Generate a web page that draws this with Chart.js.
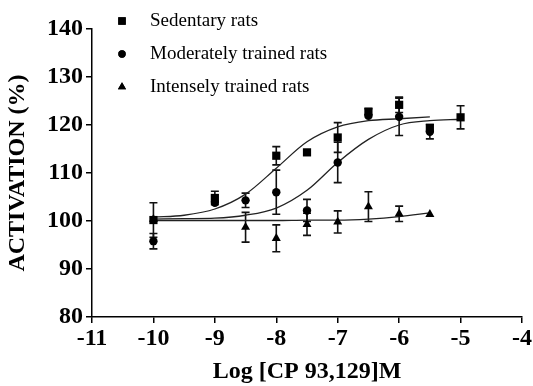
<!DOCTYPE html>
<html>
<head>
<meta charset="utf-8">
<script src="https://cdn.jsdelivr.net/npm/chart.js@4"></script>
<style>
  html, body { margin: 0; padding: 0; background: #fff; }
  #wrap { width: 533px; height: 386px; }
</style>
</head>
<body>
<div id="wrap"><canvas id="c"></canvas></div>
<script>
/* courbes dose-réponse CP 93,129 — trois groupes de rats */

const seriesNames = ["Sedentary rats", "Moderately trained rats", "Intensely trained rats"];

// points mesurés (log dose, moyenne, erreur)
const sedDose = [-10, -9, -8, -7.5, -7, -6.5, -6, -5.5, -5];
const sedMean = [100.2, 104.8, 113.6, 114.3, 117.4, 122.8, 124.2, 119.4, 121.6];
const sedErr  = [3.6, 1.4, 1.9, 0, 3.1, 0.6, 1.6, 0, 2.4];

const modDose = [-10, -9, -8.5, -8, -7.5, -7, -6.5, -6, -5.5];
const modMean = [95.8, 103.8, 104.3, 106.0, 102.2, 112.2, 121.9, 121.7, 118.6];
const modErr  = [1.6, 0, 1.5, 4.6, 2.3, 4.2, 0, 3.9, 1.5];

const intDose = [-10, -8.5, -8, -7.5, -7, -6.5, -6, -5.5];
const intMean = [100.4, 98.7, 96.4, 99.3, 99.8, 103.0, 101.5, 101.4];
const intErr  = [0, 3.1, 2.8, 2.3, 2.3, 3.1, 1.6, 0];

// courbes ajustées
const curveDose = [-10, -9.5, -9, -8.5, -8, -7.5, -7, -6.5, -6, -5.5, -5];
const sedCurve = [100.8, 101.2, 102.5, 105.6, 111.0, 116.5, 119.6, 120.9, 121.3, 121.7];
const modCurve = [100.4, 100.5, 100.6, 101.2, 102.7, 106.4, 112.2, 117.0, 120.0, 120.9, 121.2];
const intCurve = [100.1, 100.1, 100.1, 100.1, 100.1, 100.2, 100.2, 100.4, 100.9, 101.7];

const xTicks = [-11, -10, -9, -8, -7, -6, -5, -4];
const yTicks = [80, 90, 100, 110, 120, 130, 140];

const SERIF = "'Liberation Serif', 'Times New Roman', serif";

function pts(xs, ys) {
  return ys.map((y, i) => ({ x: xs[i], y: y }));
}

const markers = [
  { style: "rect", radius: 5.8 },
  { style: "circle", radius: 4.2 },
  { style: "triangle", radius: 5.2 }
];

function pointSet(label, xs, ys, errs, m) {
  return {
    label: label,
    data: pts(xs, ys),
    errors: errs,
    showLine: false,
    pointStyle: m.style,
    pointRadius: m.radius,
    pointBackgroundColor: "#000",
    pointBorderColor: "#000",
    pointBorderWidth: 0,
    order: 0
  };
}

function curveSet(xs, ys) {
  return {
    label: "_fit",
    data: pts(xs, ys),
    showLine: true,
    pointRadius: 0,
    borderColor: "#222",
    borderWidth: 1.3,
    cubicInterpolationMode: "monotone",
    fill: false,
    order: 5
  };
}

// barres d'erreur (dessinées avant les marqueurs)
const errorBars = {
  id: "errorBars",
  beforeDatasetsDraw(chart) {
    const ctx = chart.ctx;
    const xs = chart.scales.x, ys = chart.scales.y;
    ctx.save();
    ctx.strokeStyle = "#111";
    ctx.lineWidth = 1.6;
    chart.data.datasets.forEach(ds => {
      if (!ds.errors) return;
      ds.data.forEach((p, i) => {
        const e = ds.errors[i];
        if (!e) return;
        const px = xs.getPixelForValue(p.x);
        const top = ys.getPixelForValue(p.y + e);
        const bot = ys.getPixelForValue(p.y - e);
        ctx.beginPath();
        ctx.moveTo(px, top); ctx.lineTo(px, bot);
        ctx.moveTo(px - 4, top); ctx.lineTo(px + 4, top);
        ctx.moveTo(px - 4, bot); ctx.lineTo(px + 4, bot);
        ctx.stroke();
      });
    });
    ctx.restore();
  }
};

// légende en haut à gauche, comme sur la figure
const sideLegend = {
  id: "sideLegend",
  afterDraw(chart) {
    const ctx = chart.ctx;
    const rows = [21, 54, 87];
    ctx.save();
    ctx.fillStyle = "#000";
    ctx.font = "19px " + SERIF;
    ctx.textBaseline = "middle";
    seriesNames.forEach((name, i) => {
      const m = markers[i];
      Chart.helpers.drawPoint(ctx, { pointStyle: m.style, radius: m.radius - 0.5, borderWidth: 0 }, 122, rows[i]);
      ctx.fill();
      ctx.fillText(name, 150, rows[i]);
    });
    ctx.restore();
  }
};

new Chart(document.getElementById("c"), {
  type: "scatter",
  data: {
    datasets: [
      pointSet(seriesNames[0], sedDose, sedMean, sedErr, markers[0]),
      pointSet(seriesNames[1], modDose, modMean, modErr, markers[1]),
      pointSet(seriesNames[2], intDose, intMean, intErr, markers[2]),
      curveSet(curveDose, sedCurve),
      curveSet(curveDose, modCurve),
      curveSet(curveDose, intCurve)
    ]
  },
  options: {
    responsive: true,
    maintainAspectRatio: false,
    animation: false,
    layout: { padding: { left: 0, top: 29, right: 11, bottom: 0 } },
    plugins: { legend: { display: false }, tooltip: { enabled: false } },
    scales: {
      x: {
        type: "linear",
        min: -11, max: -4,
        afterBuildTicks: s => { s.ticks = xTicks.map(v => ({ value: v })); },
        afterFit: s => { s.height = 69; },
        grid: { drawOnChartArea: false, drawTicks: true, tickLength: 6, color: "#000", lineWidth: 1.5 },
        border: { display: true, color: "#000", width: 1.5 },
        ticks: { color: "#000", padding: 1, font: { family: SERIF, size: 24, weight: "bold" } },
        title: { display: true, text: "Log [CP 93,129]M", color: "#000", padding: { top: 0, bottom: 0 },
                 font: { family: SERIF, size: 24, weight: "bold" } }
      },
      y: {
        min: 80, max: 140,
        afterBuildTicks: s => { s.ticks = yTicks.map(v => ({ value: v })); },
        afterFit: s => { s.width = 92; },
        grid: { drawOnChartArea: false, drawTicks: true, tickLength: 6, color: "#000", lineWidth: 1.5 },
        border: { display: true, color: "#000", width: 1.5 },
        ticks: { color: "#000", padding: 3, font: { family: SERIF, size: 24, weight: "bold" } },
        title: { display: true, text: "ACTIVATION (%)", color: "#000", padding: { top: 3, bottom: 0 },
                 font: { family: SERIF, size: 24, weight: "bold" } }
      }
    }
  },
  plugins: [errorBars, sideLegend]
});
</script>
</body>
</html>
